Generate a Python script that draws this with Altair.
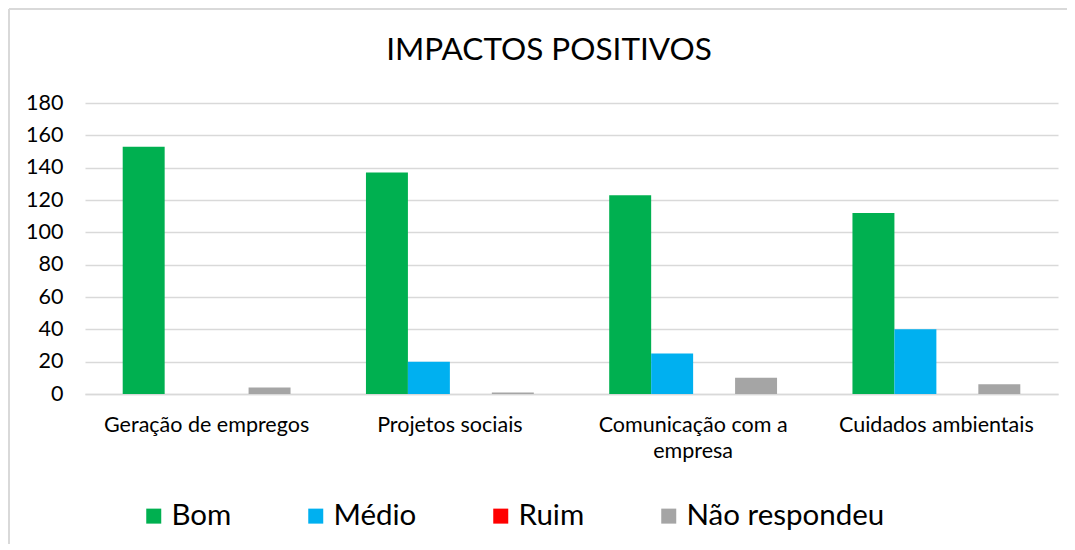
import altair as alt
import pandas as pd

title_text = "IMPACTOS POSITIVOS"
categories = ["Geração de empregos", "Projetos sociais", "Comunicação com a empresa", "Cuidados ambientais"]
series = ["Bom", "Médio", "Ruim", "Não respondeu"]
bom = [153, 137, 123, 112]
medio = [0, 20, 25, 40]
ruim = [0, 0, 0, 0]
nao_resp = [4, 1, 10, 6]
colors = ["#00B050", "#00B0F0", "#FF0000", "#A5A5A5"]

rows = []
for i, c in enumerate(categories):
    for s, vals in zip(series, [bom, medio, ruim, nao_resp]):
        rows.append({"categoria": c, "serie": s, "valor": vals[i]})
df = pd.DataFrame(rows)

FONT = "Lato"

bars = alt.Chart(df).mark_bar().encode(
    x=alt.X("categoria:N", sort=categories, title=None,
            scale=alt.Scale(paddingInner=0.31, paddingOuter=0.155),
            axis=alt.Axis(labelAngle=0, labelFontSize=21.5, labelColor="#000000",
                          labelFont=FONT, ticks=False, domain=True, domainColor="#d9d9d9",
                          domainWidth=1.5, labelPadding=20, labelLimit=300, labelLineHeight=26,
                          labelExpr="datum.label == 'Comunicação com a empresa' ? ['Comunicação com a', 'empresa'] : datum.label")),
    xOffset=alt.XOffset("serie:N", sort=series, scale=alt.Scale(paddingInner=0, paddingOuter=0)),
    y=alt.Y("valor:Q", title=None,
            scale=alt.Scale(domain=[0, 180]),
            axis=alt.Axis(values=list(range(0, 181, 20)), labelFontSize=21.5, labelColor="#000000",
                          labelFont=FONT, ticks=False, domain=False, gridColor="#d9d9d9",
                          gridWidth=1.5, labelPadding=22)),
    color=alt.Color("serie:N", sort=series,
                    scale=alt.Scale(domain=series, range=colors),
                    legend=alt.Legend(title=None, orient="none", legendX=54, legendY=398,
                                      direction="horizontal",
                                      symbolType="square", symbolSize=225, symbolStrokeWidth=0,
                                      labelFontSize=29.5, labelFont=FONT, labelColor="#000000",
                                      columnPadding=69, symbolOffset=0, labelLimit=400,
                                      labelOffset=3)),
)

frame_left = alt.Chart(pd.DataFrame({"f": [0]})).mark_rule(
    stroke="#d9d9d9", strokeWidth=2
).encode(x=alt.value(-76), y=alt.value(-94), y2=alt.value(600))

frame_top = alt.Chart(pd.DataFrame({"f": [0]})).mark_rule(
    stroke="#d9d9d9", strokeWidth=2
).encode(x=alt.value(-76), x2=alt.value(1100), y=alt.value(-94))

title = alt.Chart(pd.DataFrame({"t": [title_text]})).mark_text(
    font=FONT, fontSize=31.5, color="#000000", align="center", baseline="middle"
).encode(text="t:N", x=alt.value(464), y=alt.value(-52))

chart = alt.layer(frame_left, frame_top, bars, title).properties(
    width=973,
    height=291,
    autosize=alt.AutoSizeParams(type="none"),
    padding={"left": 77, "top": 95, "right": 9, "bottom": 150},
).configure_view(stroke=None)

chart.save("out.html", embed_options={"renderer": "svg", "actions": False})
